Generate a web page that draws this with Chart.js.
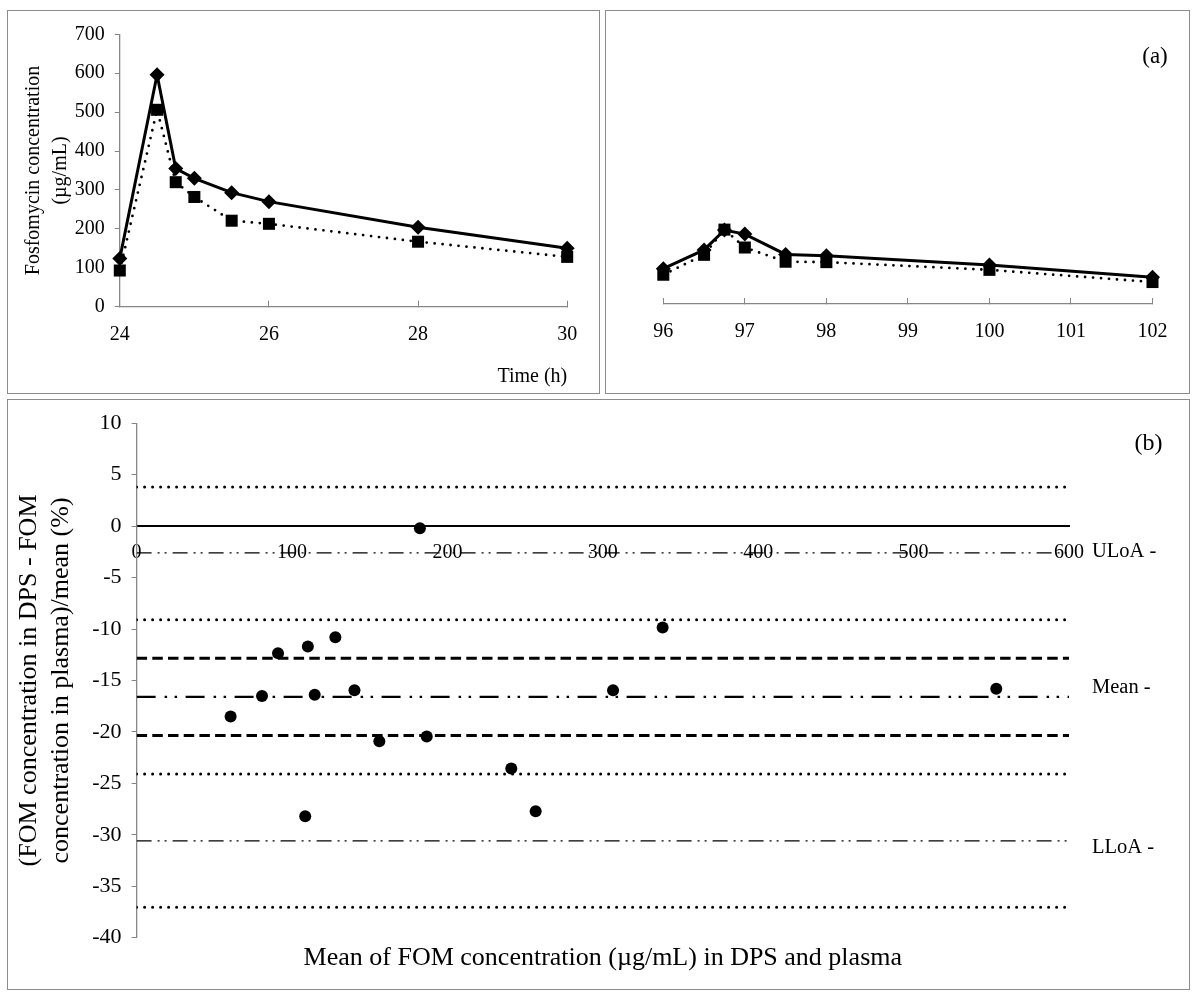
<!DOCTYPE html>
<html>
<head>
<meta charset="utf-8">
<script src="https://cdn.jsdelivr.net/npm/chart.js@4.4.1/dist/chart.umd.min.js"></script>
<style>
  html, body { margin: 0; padding: 0; background: #fff; }
  #page { position: relative; width: 1194px; height: 994px; overflow: hidden; background: #fff; }
  .panel { position: absolute; box-sizing: border-box; border: 1px solid #8c8c8c; background: #fff; }
  .panel canvas { position: absolute; left: 0; top: 0; }
</style>
</head>
<body>
<div id="page">
  <div class="panel" style="left:7px;top:10px;width:593px;height:384px;"><canvas id="chartDay2" width="591" height="382"></canvas></div>
  <div class="panel" style="left:605px;top:10px;width:585px;height:384px;"><canvas id="chartDay5" width="583" height="382"></canvas></div>
  <div class="panel" style="left:7px;top:399px;width:1183px;height:591px;"><canvas id="chartBA" width="1181" height="589"></canvas></div>
</div>
<script>
// ---- Concentration-time profiles (µg/mL) ----
const day2Times = [24, 24.5, 24.75, 25, 25.5, 26, 28, 30];
const day2Plasma = [124, 596, 355, 330, 293, 270, 204, 150];
const day2DPS = [93, 506, 320, 282, 221, 213, 167, 128];

const day5Times = [96, 96.5, 96.75, 97, 97.5, 98, 100, 102];
const day5Plasma = [87, 133, 182, 172, 122, 119, 96, 66];
const day5DPS = [72, 121, 183, 139, 104, 103, 84, 54];

const concTicks = { min: 0, max: 700, step: 100 };
const day2Axis = { min: 24, max: 30, step: 2 };
const day5Axis = { min: 96, max: 102, step: 1 };

// ---- Bland-Altman: mean concentration vs relative difference (%) ----
const baMean = [60.5, 80.7, 91.0, 110.2, 114.6, 127.9, 108.5, 140.2, 156.2, 182.3, 186.7, 241.1, 256.8, 338.5, 306.6, 553.2];
const baDiff = [-18.5, -16.5, -12.35, -11.7, -16.4, -10.8, -28.2, -15.95, -20.9, -0.2, -20.45, -23.55, -27.7, -9.85, -15.95, -15.8];

const biasMean = -16.6;
const limitsOfAgreement = [-2.6, -30.6];
const biasCI = [-12.85, -20.35];
const upperLimitCI = [3.8, -9.1];
const lowerLimitCI = [-24.1, -37.05];

const baXAxis = { min: 0, max: 600, step: 100 };
const baYAxis = { min: -40, max: 10, step: 5 };
const sideLabels = ['ULoA -', 'Mean -', 'LLoA -'];
const sideLabelValues = [-2.5, -15.7, -31.2];

const FONT = '"Liberation Serif", "Times New Roman", serif';
Chart.defaults.font.family = FONT;
Chart.defaults.color = '#000';
const AXIS_GREY = '#868686';

// Small helper plugin for free-standing text (panel letters, limit names)
function textPlugin(id, items) {
  return {
    id,
    afterDraw(chart) {
      const ctx = chart.ctx;
      ctx.save();
      ctx.fillStyle = '#000';
      ctx.textBaseline = 'middle';
      items.forEach(it => {
        ctx.font = it.size + 'px ' + FONT;
        ctx.textAlign = it.align || 'left';
        const x = it.xFn ? it.xFn(chart) : it.x;
        const y = it.yFn ? it.yFn(chart) : it.y;
        ctx.fillText(it.text, x, y);
      });
      ctx.restore();
    }
  };
}

function toPoints(xs, ys) { return xs.map((x, i) => ({ x, y: ys[i] })); }

function profileDatasets(times, plasma, dps) {
  return [
    {
      label: 'DPS', order: 0, clip: false,
      data: toPoints(times, dps),
      borderColor: '#000', borderWidth: 2.8, borderDash: [0, 8], borderCapStyle: 'round',
      pointStyle: 'rect', pointRadius: 8.5, pointBackgroundColor: '#000', pointBorderWidth: 0,
      tension: 0
    },
    {
      label: 'Plasma', order: 1, clip: false,
      data: toPoints(times, plasma),
      borderColor: '#000', borderWidth: 3,
      pointStyle: 'rectRot', pointRadius: 7.5, pointBackgroundColor: '#000', pointBorderWidth: 0,
      tension: 0
    }
  ];
}

const common = {
  responsive: false,
  animation: false,
  events: [],
  plugins: { legend: { display: false }, tooltip: { enabled: false } }
};

// Panel (a), left: 24-30 h
new Chart(document.getElementById('chartDay2'), {
  type: 'line',
  data: { datasets: profileDatasets(day2Times, day2Plasma, day2DPS) },
  options: Object.assign({}, common, {
    layout: { padding: { top: 23.3, right: 25, left: 0, bottom: 0 } },
    scales: {
      x: {
        type: 'linear', min: day2Axis.min, max: day2Axis.max,
        afterFit: s => { s.height = 86.3; },
        ticks: { stepSize: day2Axis.step, padding: 21.8, font: { size: 20 }, maxRotation: 0, autoSkip: false },
        grid: { drawOnChartArea: false, tickLength: -6, color: AXIS_GREY },
        border: { color: AXIS_GREY, width: 1.3 },
        title: { display: true, text: 'Time (h)', align: 'end', font: { size: 20 }, padding: { top: 0, bottom: 4 } }
      },
      y: {
        min: concTicks.min, max: concTicks.max,
        afterFit: s => { s.width = 111.8; },
        ticks: { stepSize: concTicks.step, padding: 10, font: { size: 20 } },
        grid: { drawOnChartArea: false, tickLength: 5, color: AXIS_GREY },
        border: { color: AXIS_GREY, width: 1.3 },
        title: { display: true, text: ['Fosfomycin concentration', '(µg/mL)'], font: { size: 20, lineHeight: 1.35 }, padding: { top: 12.5, bottom: 0 } }
      }
    }
  })
});

// Panel (a), right: 96-102 h
new Chart(document.getElementById('chartDay5'), {
  type: 'line',
  data: { datasets: profileDatasets(day5Times, day5Plasma, day5DPS) },
  options: Object.assign({}, common, {
    layout: { padding: { top: 2, right: 22, left: 57.3, bottom: 0 } },
    scales: {
      x: {
        type: 'linear', min: day5Axis.min, max: day5Axis.max,
        afterFit: s => { s.height = 89; },
        ticks: { stepSize: day5Axis.step, padding: 21.5, font: { size: 20 }, maxRotation: 0, autoSkip: false },
        grid: { drawOnChartArea: false, tickLength: -6, color: AXIS_GREY },
        border: { color: AXIS_GREY, width: 1.3 }
      },
      y: { display: false, min: concTicks.min, max: concTicks.max }
    }
  }),
  plugins: [textPlugin('panelA', [{ text: '(a)', x: 549, y: 46, size: 23, align: 'center' }])]
});

// Panel (b): Bland-Altman plot
function hLine(value, style) {
  return Object.assign({
    type: 'line', showLine: true, order: 5,
    data: [{ x: baXAxis.min, y: value }, { x: baXAxis.max, y: value }],
    borderColor: '#000', pointRadius: 0, fill: false
  }, style);
}
const dotted = { borderWidth: 3, borderDash: [0, 8], borderCapStyle: 'round' };
const dashed = { borderWidth: 3, borderDash: [10.5, 5.2], borderCapStyle: 'butt' };
const meanStyle = { borderWidth: 2.2, borderDash: [19, 9, 2.5, 7.5, 2.5, 8.5], borderCapStyle: 'butt' };
const loaStyle = { borderWidth: 1.3, borderDash: [15, 6, 2, 5, 2, 6], borderCapStyle: 'butt' };

const baDatasets = [
  {
    type: 'scatter', order: 0, clip: false,
    data: toPoints(baMean, baDiff),
    pointStyle: 'circle', pointRadius: 6, pointBackgroundColor: '#000', pointBorderWidth: 0
  },
  hLine(biasMean, meanStyle),
  hLine(limitsOfAgreement[0], loaStyle),
  hLine(limitsOfAgreement[1], loaStyle),
  hLine(biasCI[0], dashed),
  hLine(biasCI[1], dashed),
  hLine(upperLimitCI[0], dotted),
  hLine(upperLimitCI[1], dotted),
  hLine(lowerLimitCI[0], dotted),
  hLine(lowerLimitCI[1], dotted)
];

new Chart(document.getElementById('chartBA'), {
  type: 'scatter',
  data: { datasets: baDatasets },
  options: Object.assign({}, common, {
    layout: { padding: { top: 22.2, right: 120, left: 0, bottom: 0 } },
    scales: {
      x: {
        type: 'linear', min: baXAxis.min, max: baXAxis.max, position: { y: 0 },
        ticks: { stepSize: baXAxis.step, padding: 15, font: { size: 20 }, maxRotation: 0, autoSkip: false },
        grid: { display: false, drawTicks: false },
        border: { color: '#000', width: 2 }
      },
      xTitle: {
        type: 'linear', min: baXAxis.min, max: baXAxis.max, position: 'bottom',
        afterFit: s => { s.height = 51.3; },
        ticks: { display: false },
        grid: { display: false, drawTicks: false },
        border: { display: false },
        title: { display: true, text: 'Mean of FOM concentration (µg/mL) in DPS and plasma', font: { size: 26 }, padding: { top: 0, bottom: 15 } }
      },
      y: {
        min: baYAxis.min, max: baYAxis.max,
        afterFit: s => { s.width = 128.6; },
        ticks: { stepSize: baYAxis.step, padding: 10, font: { size: 22 } },
        grid: { drawOnChartArea: false, tickLength: 5, color: AXIS_GREY },
        border: { color: AXIS_GREY, width: 1.3 },
        title: { display: true, text: ['(FOM concentration in DPS - FOM', 'concentration in plasma)/mean (%)'], font: { size: 26, lineHeight: 1.25 }, padding: { top: 4.5, bottom: 0 } }
      }
    }
  }),
  plugins: [textPlugin('panelB', [
    { text: '(b)', x: 1140.5, y: 44, size: 24, align: 'center' }
  ].concat(sideLabels.map((t, i) => ({
    text: t, size: 20.5, align: 'left',
    xFn: c => c.chartArea.right + 23,
    yFn: c => c.scales.y.getPixelForValue(sideLabelValues[i])
  }))))]
});
</script>
</body>
</html>
